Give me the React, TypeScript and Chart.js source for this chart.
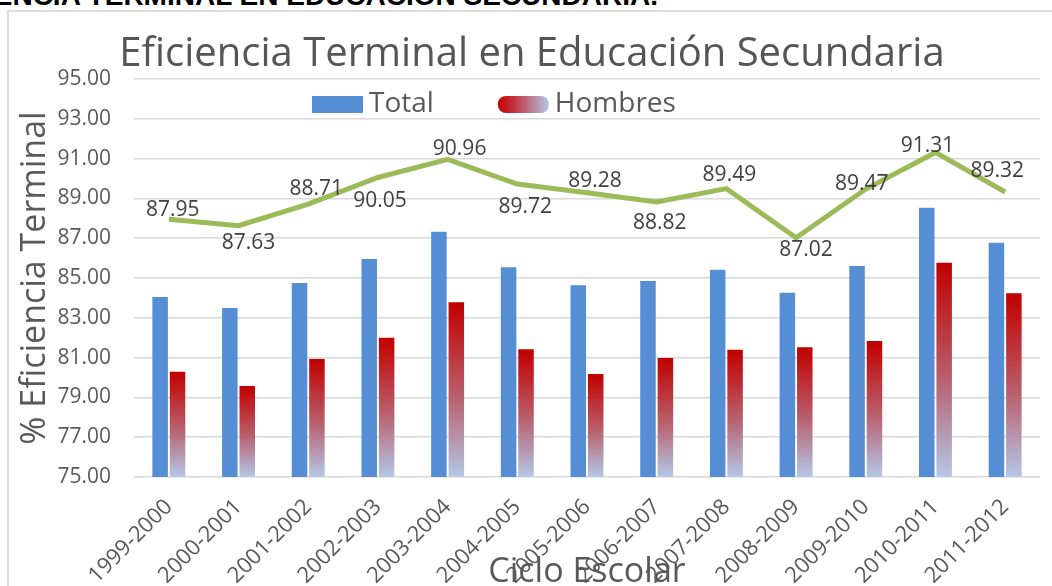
import React, { useEffect, useRef } from "react";
import { Chart, registerables } from "chart.js";

Chart.register(...registerables);

// ---------- data ----------
const CATEGORIES = [
  "1999-2000", "2000-2001", "2001-2002", "2002-2003", "2003-2004", "2004-2005",
  "2005-2006", "2006-2007", "2007-2008", "2008-2009", "2009-2010", "2010-2011", "2011-2012",
];
const TOTAL = [84.05, 83.49, 84.75, 85.95, 87.33, 85.54, 84.63, 84.85, 85.42, 84.26, 85.6, 88.53, 86.77];
const HOMBRES = [80.29, 79.57, 80.93, 82.0, 83.78, 81.42, 80.18, 80.98, 81.4, 81.52, 81.83, 85.77, 84.23];
const MUJERES = [87.95, 87.63, 88.71, 90.05, 90.96, 89.72, 89.28, 88.82, 89.49, 87.02, 89.47, 91.31, 89.32];
const SERIES_NAMES = ["Total", "Hombres", "Mujeres"];
const Y_MIN = 75;
const Y_MAX = 95;
const Y_STEP = 2;

const TITLE = "Eficiencia Terminal en Educación Secundaria";
const Y_TITLE = "% Eficiencia Terminal";
const X_TITLE = "Ciclo Escolar";
const PAGE_HEADING = "EFICIENCIA TERMINAL EN EDUCACIÓN SECUNDARIA.";

// ---------- style ----------
const FONT = '"Open Sans", sans-serif';
const TEXT = "#595959";
const BLUE = "#558ED5";
const RED_TOP = "#C00000";
const RED_BOTTOM = "#B4C7E7";
const GREEN = "#9BBB59";
const GRID = "#D9D9D9";
// data-label nudges (pixels) mimicking the original label placement
const LABEL_DX = [4, 10, 8, 2, 12, 8, 8, 3, 3, 10, -4, -8, -8];
const LABEL_DY = [-9, 17, -15, 24, -10, 23, -12, 21, -14, 12, -5, -6, -21];

const decorPlugin = {
  id: "decor",
  afterDatasetsDraw(chart: any) {
    const ctx = chart.ctx;
    const meta = chart.getDatasetMeta(2);
    ctx.save();
    ctx.font = `21px ${FONT}`;
    ctx.fillStyle = "#404040";
    ctx.textAlign = "center";
    ctx.textBaseline = "middle";
    meta.data.forEach((pt: any, i: number) => {
      ctx.fillText(MUJERES[i].toFixed(2), pt.x + LABEL_DX[i], pt.y + LABEL_DY[i]);
    });
    ctx.restore();
  },
  afterDraw(chart: any) {
    const ctx = chart.ctx;
    const area = chart.chartArea;
    ctx.save();
    // axis titles
    ctx.fillStyle = TEXT;
    ctx.font = `34px ${FONT}`;
    ctx.textAlign = "center";
    ctx.textBaseline = "alphabetic";
    ctx.fillText(X_TITLE, (area.left + area.right) / 2, 582);
    ctx.translate(45, (area.top + area.bottom) / 2);
    ctx.rotate(-Math.PI / 2);
    ctx.fillText(Y_TITLE, 0, 0);
    ctx.setTransform(1, 0, 0, 1, 0, 0);
    // legend (Total, Hombres)
    ctx.font = `28px ${FONT}`;
    ctx.textAlign = "left";
    ctx.textBaseline = "middle";
    const boxW = 51;
    const boxH = 17;
    const cy = 104.5;
    let x = 312;
    const names = [chart.data.datasets[0].label, chart.data.datasets[1].label];
    names.forEach((name: string, i: number) => {
      if (i === 0) {
        ctx.fillStyle = BLUE;
        ctx.fillRect(x, cy - boxH / 2, boxW, boxH);
      } else {
        const g = ctx.createLinearGradient(x, 0, x + boxW, 0);
        g.addColorStop(0, RED_TOP);
        g.addColorStop(0.3, "#C5303A");
        g.addColorStop(1, RED_BOTTOM);
        ctx.fillStyle = g;
        ctx.beginPath();
        ctx.roundRect(x, cy - boxH / 2, boxW, boxH, 8);
        ctx.fill();
      }
      ctx.fillStyle = TEXT;
      const tx = x + boxW + 6;
      ctx.fillText(name, tx, cy);
      x = tx + ctx.measureText(name).width + 64;
    });
    ctx.restore();
  },
};

export default function App() {
  const canvasRef = useRef<HTMLCanvasElement | null>(null);

  useEffect(() => {
    if (!canvasRef.current) return;
    const redGradient = (c: any) => {
      const chart = c.chart;
      const area = chart.chartArea;
      if (!area || c.type !== "data" || !c.parsed) return RED_TOP;
      const top = chart.scales.y.getPixelForValue(c.parsed.y);
      const g = chart.ctx.createLinearGradient(0, top, 0, area.bottom);
      g.addColorStop(0, RED_TOP);
      g.addColorStop(0.12, "#C01416");
      g.addColorStop(0.55, "#B8616F");
      g.addColorStop(1, RED_BOTTOM);
      return g;
    };

    const chart = new Chart(canvasRef.current, {
      type: "bar",
      data: {
        labels: CATEGORIES,
        datasets: [
          {
            type: "bar",
            label: SERIES_NAMES[0],
            data: TOTAL,
            backgroundColor: BLUE,
            categoryPercentage: 0.5,
            barPercentage: 0.89,
            order: 2,
          },
          {
            type: "bar",
            label: SERIES_NAMES[1],
            data: HOMBRES,
            backgroundColor: redGradient,
            categoryPercentage: 0.5,
            barPercentage: 0.89,
            order: 2,
          },
          {
            type: "line",
            label: SERIES_NAMES[2],
            data: MUJERES,
            borderColor: GREEN,
            backgroundColor: GREEN,
            borderWidth: 5,
            pointRadius: 0,
            tension: 0,
            fill: false,
            order: 0,
          } as any,
        ],
      },
      options: {
        animation: false,
        responsive: true,
        maintainAspectRatio: false,
        events: [],
        layout: { padding: { left: 24, right: 12, top: 0, bottom: 0 } },
        plugins: {
          legend: { display: false },
          tooltip: { enabled: false },
          title: {
            display: true,
            text: TITLE,
            color: "#555555",
            font: { family: FONT, size: 40, weight: "normal", lineHeight: 1.2 },
            padding: { top: 31, bottom: 0 },
          },
        },
        scales: {
          x: {
            grid: { display: false, drawTicks: false },
            border: { display: false },
            ticks: {
              color: TEXT,
              font: { family: FONT, size: 22 },
              minRotation: 45,
              maxRotation: 45,
              autoSkip: false,
              padding: 17,
            },
            afterFit(scale: any) {
              scale.height = 109;
            },
          },
          y: {
            min: Y_MIN,
            max: Y_MAX,
            grid: { color: GRID, lineWidth: 1.5, drawTicks: false },
            border: { display: false },
            ticks: {
              stepSize: Y_STEP,
              color: TEXT,
              font: { family: FONT, size: 21 },
              padding: 23,
              callback: (v: any) => Number(v).toFixed(2),
            },
            afterFit(scale: any) {
              scale.width = 110;
            },
          },
        },
      },
      plugins: [decorPlugin],
    });
    return () => chart.destroy();
  }, []);

  return (
    <div
      style={{
        position: "fixed",
        left: 0,
        top: 0,
        width: 1052,
        height: 586,
        overflow: "hidden",
        background: "#fff",
      }}
    >
      <div
        style={{
          position: "absolute",
          right: 394,
          top: -18,
          whiteSpace: "nowrap",
          font: 'bold 28px "Liberation Sans", Arial, sans-serif',
          color: "#000",
          lineHeight: "28px",
        }}
      >
        {PAGE_HEADING}
      </div>
      <div
        style={{
          position: "absolute",
          left: 7,
          top: 10,
          width: 1100,
          height: 700,
          border: "2px solid #DEDEDE",
          boxSizing: "border-box",
        }}
      />
      <div style={{ position: "absolute", left: 0, top: 0, width: 1052, height: 586 }}>
        <canvas ref={canvasRef} />
      </div>
    </div>
  );
}
